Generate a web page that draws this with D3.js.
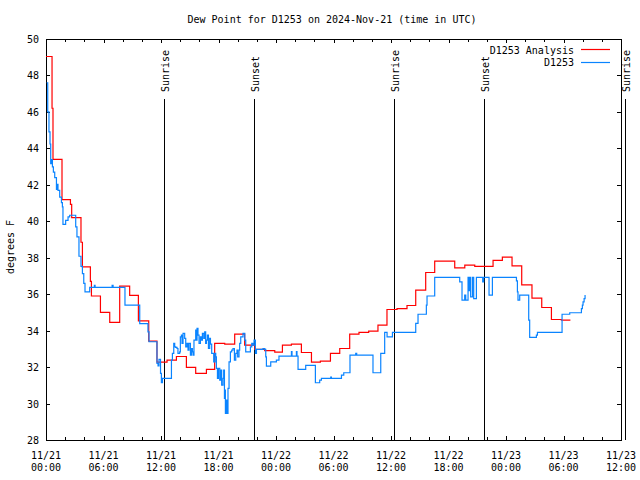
<!DOCTYPE html>
<html><head><meta charset="utf-8">
<script src="https://cdn.jsdelivr.net/npm/d3@7"></script>
<style>
body{margin:0;background:#fff;}
svg{display:block;}
text{font-family:"DejaVu Sans Mono","Liberation Mono",monospace;font-size:10px;fill:#000;}
</style></head>
<body><svg id="c" width="640" height="480"></svg>
<script>
// ---- data (hours since 2024-11-21 00:00 UTC) ----
const analysisHours = [0,0.63,0.73,1.67,2.55,2.68,3.65,3.80,4.63,4.74,5.68,6.65,7.69,8.73,9.64,10.72,11.58,12.63,13.61,14.65,15.62,16.74,17.60,18.65,19.69,20.73,21.78,22.82,23.87,24.67,25.61,26.65,27.70,28.63,29.68,30.65,31.69,32.66,33.67,34.64,35.58,36.63,37.67,38.58,39.62,40.56,42.65,43.70,44.74,46.65,47.62,48.63,49.64,50.71,51.73,52.74,53.78,54.72];
const analysisValues = [49.04,46.2,43.4,41.19,40.93,40.2,38.85,37.5,36.7,35.9,35.0,34.45,36.44,35.93,34.54,33.42,32.27,32.38,32.58,31.98,31.65,31.87,33.3,33.26,33.81,33.2,32.97,32.9,32.82,33.2,33.26,32.8,32.27,32.33,32.75,33.02,33.81,33.9,33.97,34.3,35.16,35.21,35.38,36.22,37.19,37.81,37.44,37.59,37.53,37.86,38.03,37.55,36.51,35.78,35.27,34.61,34.58,34.58];

const obsHours = [0.07,0.18,0.31,0.42,0.49,0.56,0.67,0.77,0.91,1.09,1.15,1.25,1.43,1.61,1.71,1.77,2.05,2.30,2.47,3.10,3.23,3.44,3.65,3.80,3.94,4.07,4.56,5.05,5.12,6.90,7.00,8.24,9.78,10.64,10.75,11.58,11.69,11.79,11.95,12.04,12.15,13.09,13.19,13.33,13.43,13.53,13.67,13.77,13.95,14.02,14.13,14.19,14.30,14.47,14.58,14.71,14.82,14.92,15.07,15.17,15.28,15.34,15.44,15.62,15.69,15.76,15.86,15.97,16.11,16.22,16.32,16.46,16.56,16.66,16.74,16.84,16.95,17.08,17.16,17.29,17.50,17.64,17.71,17.78,17.89,17.99,18.13,18.23,18.33,18.47,18.54,18.62,18.68,18.72,18.82,18.89,18.99,19.10,19.24,19.38,19.51,19.66,19.80,19.93,20.00,20.14,20.21,20.32,20.56,20.74,20.84,21.33,21.47,21.60,21.71,21.85,21.96,22.64,22.82,22.93,23.00,23.45,24.04,24.31,25.61,25.67,26.13,26.19,26.30,27.10,28.11,28.56,28.74,29.71,29.78,30.83,31.07,31.72,32.32,32.42,34.12,34.93,35.34,35.59,36.15,38.58,38.82,39.69,39.76,40.56,43.17,43.41,43.69,43.80,44.04,44.14,44.21,44.31,44.50,44.63,44.91,45.57,45.67,46.23,46.58,49.09,49.19,49.25,49.43,50.37,50.47,51.17,51.28,53.85,54.65,55.87,55.97,56.04,56.15,56.25];
const obsValues = [47.6,46.0,44.9,44.24,43.16,43.39,42.98,42.7,42.39,41.75,42.03,41.7,41.33,41.02,40.79,39.83,40.05,40.24,40.33,39.69,39.14,38.08,37.53,37.13,36.59,36.13,36.37,36.48,36.37,36.48,36.37,35.4,34.39,33.93,33.39,32.2,32.07,32.42,31.65,31.14,31.38,32.38,32.75,33.3,33.11,33.08,33.02,32.75,32.84,33.66,33.75,33.3,33.85,33.57,33.11,33.3,32.93,33.3,32.66,33.02,32.84,32.66,33.48,34.03,33.48,34.12,33.75,33.3,33.66,33.48,33.85,33.57,33.93,33.3,33.48,33.75,33.02,33.57,33.26,32.75,32.29,32.75,32.56,31.93,31.38,31.93,31.29,31.84,31.01,31.38,31.84,30.28,30.74,29.46,30.19,29.46,30.83,32.29,32.84,32.93,33.02,32.38,32.75,32.93,32.56,32.93,33.3,33.66,33.85,33.48,32.84,33.11,33.3,33.2,33.48,32.75,32.97,33.02,32.97,32.56,32.05,32.29,32.38,32.6,32.85,32.6,32.85,32.6,31.87,32.09,31.14,31.29,31.38,31.45,31.38,31.56,31.69,32.66,32.75,32.66,31.69,32.75,33.9,33.66,33.9,34.4,34.9,35.4,35.9,36.92,36.68,35.67,35.95,35.67,36.92,36.2,36.92,35.85,36.92,35.76,36.92,36.68,36.92,35.95,36.92,36.73,36.13,35.67,35.95,34.58,33.63,33.75,33.9,34.9,34.98,35.21,35.4,35.58,35.76,35.95];

const eventHours = [12.31,21.70,36.31,45.70,60.40];
const eventLabels = ["Sunrise","Sunset","Sunrise","Sunset","Sunrise"];

const xTickHours = [0,6,12,18,24,30,36,42,48,54,60];
const xTickDates = ["11/21","11/21","11/21","11/21","11/22","11/22","11/22","11/22","11/23","11/23","11/23"];
const xTickTimes = ["00:00","06:00","12:00","18:00","00:00","06:00","12:00","18:00","00:00","06:00","12:00"];
const xMinorHours = [2,4,8,10,14,16,20,22,26,28,32,34,38,40,44,46,50,52,56,58];
const yTicks = [28,30,32,34,36,38,40,42,44,46,48,50];

const seriesNames = ["D1253 Analysis","D1253"];
const seriesColors = ["#ff0000","#0a84ff"];
const title = "Dew Point for D1253 on 2024-Nov-21 (time in UTC)";
const yLabel = "degrees F";

// ---- layout ----
const L = 46, R = 621, T = 39, B = 440;
const svg = d3.select("#c");
const x = d3.scaleLinear().domain([0,60]).range([L,R]);
const y = d3.scaleLinear().domain([28,50]).range([B,T]);

const crisp = g => g.attr("shape-rendering","crispEdges");

// title
svg.append("text").attr("x",332).attr("y",23).attr("text-anchor","middle").text(title);

// y label
svg.append("text").attr("transform","translate(14,247) rotate(-90)").attr("text-anchor","middle").text(yLabel);

// event lines
const ev = svg.append("g");
eventHours.forEach((h,i)=>{
  const xx = Math.round(x(h))+0.5;
  ev.append("line").attr("x1",xx).attr("x2",xx).attr("y1",99).attr("y2",B).attr("stroke","#000").attr("stroke-width",1).call(crisp);
  ev.append("text").attr("transform",`translate(${xx+4},92) rotate(-90)`).attr("text-anchor","start").text(eventLabels[i]);
});

// axes with inward ticks
const axB = d3.axisBottom(x).tickValues(xTickHours).tickSize(-4).tickFormat("");
const axT = d3.axisTop(x).tickValues(xTickHours).tickSize(-4).tickFormat("");
const axL = d3.axisLeft(y).tickValues(yTicks).tickSize(-4).tickFormat("");
const axR = d3.axisRight(y).tickValues(yTicks).tickSize(-4).tickFormat("");
const mB = d3.axisBottom(x).tickValues(xMinorHours).tickSize(-3).tickFormat("");
const mT = d3.axisTop(x).tickValues(xMinorHours).tickSize(-3).tickFormat("");

function styleAxis(g){
  g.selectAll("path").remove();
  g.selectAll("line").attr("stroke","#000").attr("shape-rendering","crispEdges");
}
svg.append("g").attr("transform",`translate(0,${B})`).call(axB).call(styleAxis);
svg.append("g").attr("transform",`translate(0,${B})`).call(mB).call(styleAxis);
svg.append("g").attr("transform",`translate(0,${T})`).call(axT).call(styleAxis);
svg.append("g").attr("transform",`translate(0,${T})`).call(mT).call(styleAxis);
svg.append("g").attr("transform",`translate(${L},0)`).call(axL).call(styleAxis);
svg.append("g").attr("transform",`translate(${R},0)`).call(axR).call(styleAxis);

// frame
svg.append("rect").attr("x",L+0.5).attr("y",T+0.5).attr("width",R-L).attr("height",B-T)
  .attr("fill","none").attr("stroke","#000").attr("stroke-width",1).call(crisp);

// tick labels
xTickHours.forEach((h,i)=>{
  const t = svg.append("text").attr("x",x(h)).attr("text-anchor","middle");
  t.append("tspan").attr("x",x(h)).attr("y",459).text(xTickDates[i]);
  t.append("tspan").attr("x",x(h)).attr("y",471).text(xTickTimes[i]);
});
yTicks.forEach(v=>{
  svg.append("text").attr("x",39).attr("y",y(v)+4).attr("text-anchor","end").text(v);
});

// data
const line = d3.line().curve(d3.curveStepAfter).x(d=>x(d[0])).y(d=>y(d[1]));
const ana = analysisHours.map((h,i)=>[h,analysisValues[i]]);
const obs = obsHours.map((h,i)=>[h,obsValues[i]]);
svg.append("path").datum(ana).attr("d",line).attr("fill","none").attr("stroke",seriesColors[0]).attr("stroke-width",1.2);
svg.append("path").datum(obs).attr("d",line).attr("fill","none").attr("stroke",seriesColors[1]).attr("stroke-width",1.2);

// legend
seriesNames.forEach((n,i)=>{
  const yy = 50 + i*12.5;
  svg.append("text").attr("x",574).attr("y",yy+3.5).attr("text-anchor","end").text(n);
  svg.append("line").attr("x1",581).attr("x2",610).attr("y1",Math.round(yy)-0.5).attr("y2",Math.round(yy)-0.5)
    .attr("stroke",seriesColors[i]).attr("stroke-width",1.2);
});
</script></body></html>
